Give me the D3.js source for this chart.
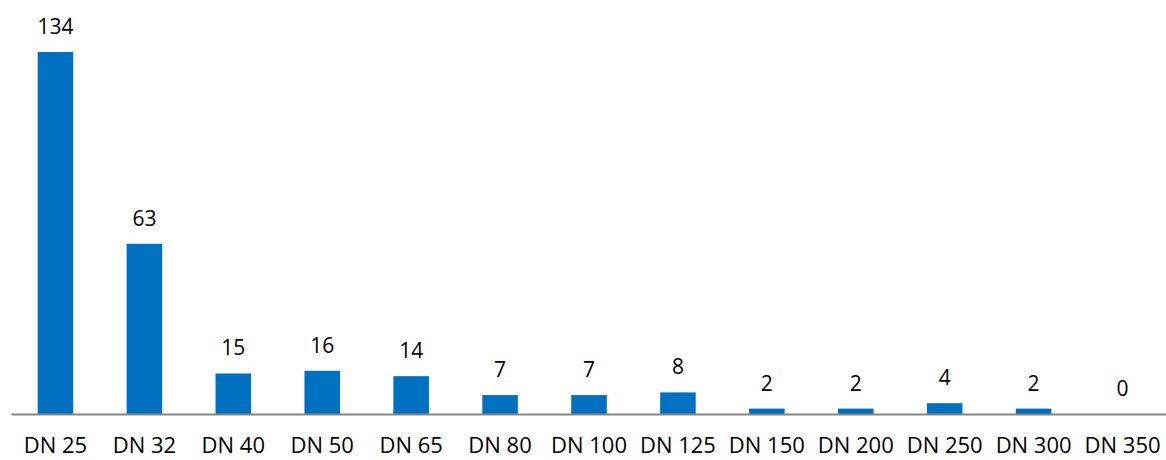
<!DOCTYPE html>
<html>
<head>
<meta charset="utf-8">
<script src="https://cdn.jsdelivr.net/npm/d3@7"></script>
<style>
  body { margin: 0; background: #fff; }
  svg { display: block; }
  text { font-family: "Open Sans", sans-serif; fill: #000; }
</style>
</head>
<body>
<svg id="chart"></svg>
<script>
const categories = ["DN 25", "DN 32", "DN 40", "DN 50", "DN 65", "DN 80", "DN 100",
    "DN 125", "DN 150", "DN 200", "DN 250", "DN 300", "DN 350"];
const counts = [134, 63, 15, 16, 14, 7, 7, 8, 2, 2, 4, 2, 0];

const width = 1166;
const height = 460;
const svg = d3.select("#chart").attr("width", width).attr("height", height);

const x = d3.scaleBand()
    .domain(categories)
    .range([11, 1167])
    .paddingInner(0.6)
    .paddingOuter(0.3);

const y = d3.scaleLinear()
    .domain([0, 134])
    .range([414, 52]);

// bars
svg.append("g")
    .selectAll("rect")
    .data(categories)
    .enter().append("rect")
    .attr("x", (d) => x(d))
    .attr("width", x.bandwidth())
    .attr("y", (d, i) => y(counts[i]))
    .attr("height", (d, i) => y(0) - y(counts[i]))
    .attr("fill", "#0070C0");

// value labels
svg.append("g")
    .selectAll("text")
    .data(categories)
    .enter().append("text")
    .attr("x", (d) => x(d) + x.bandwidth() / 2)
    .attr("y", (d, i) => y(counts[i]) - 18)
    .attr("text-anchor", "middle")
    .style("font-size", "21px")
    .text((d, i) => counts[i]);

// x axis
const axis = svg.append("g")
    .attr("transform", `translate(0,${y(0)})`)
    .call(d3.axisBottom(x).tickSize(0).tickPadding(23));
axis.select(".domain").attr("stroke", "#868686").attr("stroke-width", 2);
axis.selectAll("text")
    .style("font-size", "22px")
    .style("font-family", "'Open Sans', sans-serif");
</script>
</body>
</html>
